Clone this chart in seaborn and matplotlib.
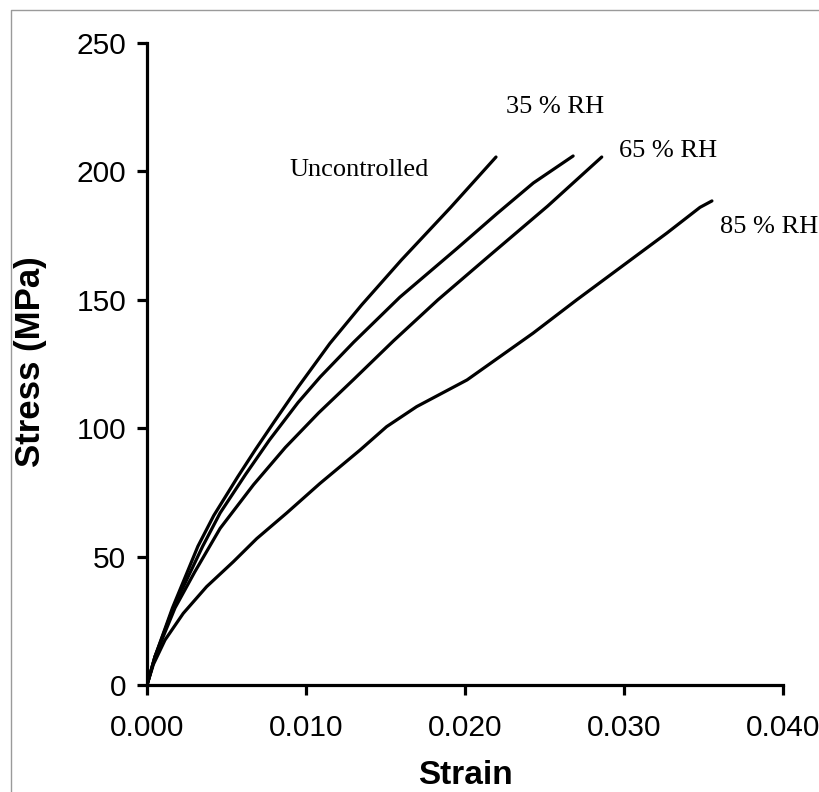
import numpy as np
import pandas as pd
import matplotlib
matplotlib.use("Agg")
import matplotlib.pyplot as plt
from matplotlib.lines import Line2D
from matplotlib.ticker import FormatStrFormatter
import seaborn as sns

# ---- data ----
unc_strain = [0, 0.0005, 0.0016, 0.0032, 0.0042, 0.0057, 0.0068, 0.0080, 0.0095, 0.0115, 0.0135,
              0.0160, 0.0191, 0.02195]
unc_stress = [0, 11, 30, 54, 66, 81, 91.5, 102.5, 116, 133, 148,
              165.5, 186, 205.6]

rh35_strain = [0, 0.0005, 0.00165, 0.0035, 0.0046, 0.0062, 0.0077, 0.0095, 0.0109, 0.0130,
               0.0159, 0.0195, 0.0220, 0.0243, 0.0268]
rh35_stress = [0, 11, 30, 54, 67, 82, 95.4, 110, 120, 133.5,
               151, 170, 183.5, 195.5, 206]

rh65_strain = [0, 0.0005, 0.00176, 0.0030, 0.0046, 0.0067, 0.0087, 0.0108, 0.0130, 0.0155,
               0.0183, 0.0215, 0.0252, 0.0286]
rh65_stress = [0, 11, 30, 44, 61, 78, 92.5, 106, 119, 134,
               150, 167, 186.5, 205.6]

rh85_strain = [0, 0.0004, 0.00113, 0.00228, 0.00375, 0.00543, 0.0069, 0.00879, 0.01088, 0.0134,
               0.01507, 0.01696, 0.02013, 0.02428, 0.02703, 0.0327, 0.03478, 0.03553]
rh85_stress = [0, 8, 17.5, 27.9, 38.3, 48, 57, 67, 78.5, 91.5,
               100.6, 108.4, 118.8, 137, 150, 176, 186, 188.5]

series_names = ["Uncontrolled", "35 % RH", "65 % RH", "85 % RH"]
label_x = [0.00899, 0.02258, 0.02969, 0.03603]
label_y = [200.5, 224.9, 207.9, 178.2]

x_ticks = [0.000, 0.010, 0.020, 0.030, 0.040]
y_ticks = [0, 50, 100, 150, 200, 250]

frames = []
for name, xs, ys in zip(series_names,
                        [unc_strain, rh35_strain, rh65_strain, rh85_strain],
                        [unc_stress, rh35_stress, rh65_stress, rh85_stress]):
    frames.append(pd.DataFrame({"Strain": xs, "Stress": ys, "Series": name}))
df = pd.concat(frames, ignore_index=True)

sns.set_style("ticks")
plt.rcParams["font.family"] = ["Liberation Sans", "DejaVu Sans"]
plt.rcParams["text.color"] = "black"
plt.rcParams["axes.labelcolor"] = "black"

fig = plt.figure(figsize=(8.19, 7.92), dpi=100)
ax = fig.add_axes([147/819, 1 - 685/792, (783-147)/819, (685-43)/792])

sns.lineplot(data=df, x="Strain", y="Stress", hue="Series", units="Series",
             estimator=None, sort=False, palette=["black"]*4, linewidth=2.3,
             legend=False, ax=ax)

ax.set_xlim(0, 0.04)
ax.set_ylim(0, 250)
ax.set_xticks(x_ticks)
ax.set_yticks(y_ticks)
ax.xaxis.set_major_formatter(FormatStrFormatter("%.3f"))
sns.despine(ax=ax)
for s in ["left", "bottom"]:
    ax.spines[s].set_linewidth(2.3)
    ax.spines[s].set_color("black")
ax.tick_params(axis="both", direction="out", length=7, width=2.3, colors="black",
               labelsize=21.5, labelcolor="black")
ax.tick_params(axis="x", pad=14)
ax.tick_params(axis="y", pad=8)

ax.set_xlabel("Strain", fontsize=24, fontweight="bold", color="black")
ax.set_ylabel("Stress (MPa)", fontsize=25, fontweight="bold", color="black")
ax.xaxis.set_label_coords(0.5, -0.117)
ax.yaxis.set_label_coords(-0.157, 0.503)

for name, lx, ly in zip(series_names, label_x, label_y):
    ax.text(lx, ly, name, ha="left", va="center", fontsize=19,
            family=["Liberation Serif", "DejaVu Serif"], color="black", clip_on=False)

# thin grey frame around the picture (top and left visible)
fig.add_artist(Line2D([11/819, 11/819, 1.0], [0.0, 1 - 10/792, 1 - 10/792],
                      transform=fig.transFigure, color="#9a9a9a", linewidth=1.0))

fig.savefig("out.png", dpi=100, facecolor="white")
